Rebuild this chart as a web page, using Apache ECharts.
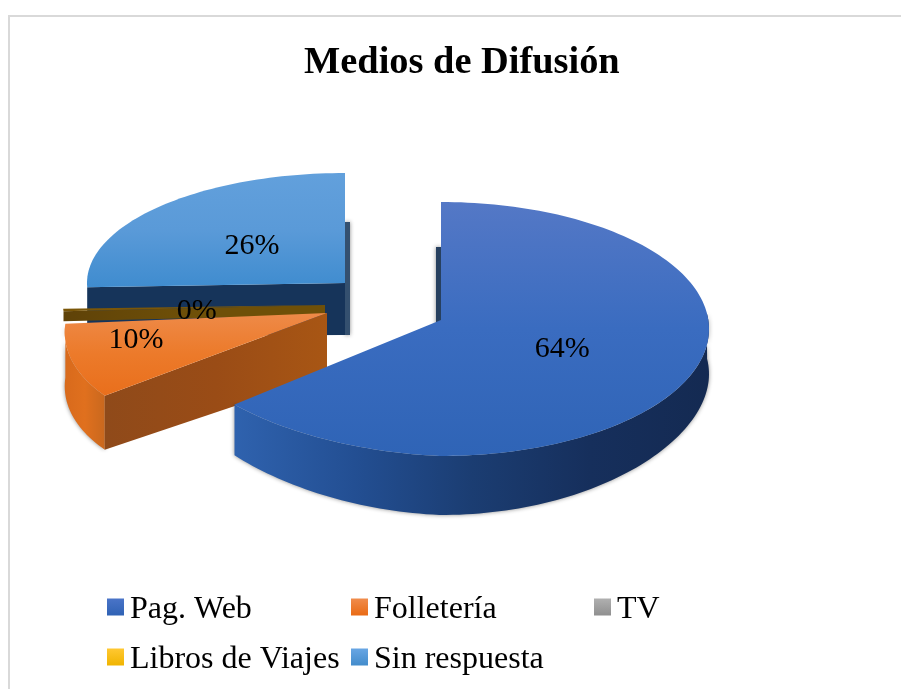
<!DOCTYPE html>
<html>
<head>
<meta charset="utf-8">
<style>html,body{margin:0;padding:0;background:#fff}#c{width:901px;height:689px}</style>
<script src="https://cdn.jsdelivr.net/npm/echarts@6/dist/echarts.min.js"></script>
</head>
<body>
<div id="c"></div>
<script>
const categories = ['Pag. Web', 'Folletería', 'TV', 'Libros de Viajes', 'Sin respuesta'];
const values = [64, 10, 0, 0.4, 25.6];

const FONT = '"Liberation Serif","Times New Roman",serif';
const LG = (x0, y0, x1, y1, stops) => new echarts.graphic.LinearGradient(x0, y0, x1, y1,
  stops.map((c, i) => ({ offset: stops.length > 1 ? i / (stops.length - 1) : 0, color: c })));

// Exploded-pie projection settings, one per category (no data in here).
const pieCenter = [385, 307];
const geom = [
  { off: [56, 13], rimDy: 9, rx: 268, ry: 127, shear: 0, lift: 11, depth: t => 45 + 14 * Math.pow(Math.max(0, -Math.cos(t)), 2), apexDepth: 55,
    z: 5, rim: true, strip: -5, labelF: .5, labelDy: 2,
    top: ['#5478c6', '#3a6cc0', '#2f64b6'], wall: ['#2f62ae', '#234f93', '#1b3d72', '#162f5c', '#142a52'], stripC: '#27405f' },
  { off: [-58, 6], rimDy: 3, rx: 260, ry: 125, shear: .275, lift: 0, depth: t => 54, apexDepth: 62,
    z: 4, rim: true, cut: true, labelF: .79, labelDy: -9,
    top: ['#ee8a48', '#ec7a2a', '#e96f1c'], wall: ['#d86a1c', '#e0701e', '#c9681e'], cutC: ['#8f4a1a', '#9a4c16', '#a85614'] },
  null,
  { off: [-60, -2], rimDy: 0, rx: 262, ry: 100, shear: 0, lift: 0, depth: t => 10, apexDepth: 10,
    z: 3, cut: true, labelF: .49, labelDy: 4,
    top: ['#7a5608', '#7a5608'], cutC: ['#5f4208', '#6f5008', '#6f5008'] },
  { off: [-40, -24], rimDy: 0, rx: 258, ry: 110, shear: 0, lift: 0, depth: t => 49, apexDepth: 52,
    z: 2, cut: true, strip: 5, labelF: .5, labelDy: 1,
    top: ['#62a0dc', '#5a9ad8', '#3f8ccf'], cutC: ['#16345a', '#16345a', '#16345a'], stripC: '#34506f' }
];
const legendColors = [['#4a74c8', '#2f62b4'], ['#f08c4c', '#e96a14'], ['#b0b0b0', '#8f8f8f'], ['#ffc832', '#f0b400'], ['#68a6e4', '#438ccb']];

const total = values.reduce((a, b) => a + b, 0);
const angles = [];
values.reduce((acc, v) => { const s = acc / total * 2 * Math.PI, e = (acc + v) / total * 2 * Math.PI; angles.push([s, e]); return acc + v; }, 0);

function apex(g) { return [pieCenter[0] + g.off[0], pieCenter[1] + g.off[1]]; }
function rimPt(g, t) {
  const a = apex(g), dy = -Math.cos(t) * g.ry;
  const lift = g.lift * Math.max(0, -Math.sin(t)) * Math.max(0, -Math.cos(t));
  return [a[0] + Math.sin(t) * g.rx - g.shear * Math.max(0, dy), a[1] + g.rimDy + dy - lift];
}
function arc(g, t0, t1) {
  const n = Math.max(2, Math.ceil(Math.abs(t1 - t0) * 40)), pts = [];
  for (let i = 0; i <= n; i++) pts.push(t0 + (t1 - t0) * i / n);
  return pts;
}
function poly(points, style, extra) {
  return Object.assign({ type: 'polygon', shape: { points }, style, silent: true }, extra || {});
}
function drawSlice(i) {
  const g = geom[i], kids = [];
  if (!values[i] || !g) return { type: 'group', children: [] };
  const [s, e] = angles[i], a = apex(g);
  const shadow = { shadowBlur: 4, shadowColor: 'rgba(0,0,0,.45)' };
  if (g.strip) {
    const t = g.strip > 0 ? e : s, r = rimPt(g, t), d = g.depth(t);
    kids.push(poly([[r[0], r[1] + d], [r[0] + g.strip, r[1] + d], [a[0] + g.strip, a[1] + g.apexDepth], [a[0], a[1] + g.apexDepth]],
      Object.assign({ fill: g.stripC }, shadow)));
  }
  if (g.rim) {
    const t0 = Math.max(s, 1.45), t1 = Math.min(e, 4.72);
    const ts = arc(g, t0, t1);
    const upper = ts.map(t => rimPt(g, t));
    const lower = ts.slice().reverse().map(t => { const p = rimPt(g, t); return [p[0], p[1] + g.depth(t)]; });
    kids.push(poly(upper.concat(lower), Object.assign({ fill: LG(0, 0, 1, 0, g.wall) }, shadow)));
  }
  if (g.cut) {
    const r = rimPt(g, s), d = g.depth(s);
    kids.push(poly([a, r, [r[0], r[1] + d], [a[0], a[1] + g.apexDepth]], { fill: LG(0, 0, 1, 0, g.cutC) }));
  }
  const topPts = [a].concat(arc(g, s, e).map(t => rimPt(g, t)));
  kids.push(poly(topPts, { fill: LG(0, 0, 0, 1, g.top) }));
  return { type: 'group', children: kids };
}
function drawLabels() {
  const kids = [];
  values.forEach((v, i) => {
    const g = geom[i];
    if (!v || !g) return;
    const mid = (angles[i][0] + angles[i][1]) / 2, a = apex(g);
    kids.push({
      type: 'text', silent: true,
      style: {
        x: a[0] + Math.sin(mid) * g.rx * g.labelF,
        y: a[1] - Math.cos(mid) * g.ry * g.labelF + g.labelDy,
        text: Math.round(v / total * 100) + '%',
        font: '30px ' + FONT, fill: '#000', align: 'center', verticalAlign: 'middle'
      }
    });
  });
  return { type: 'group', children: kids };
}

const series = categories.map((name, i) => ({
  type: 'custom', name, coordinateSystem: 'none', silent: true,
  z: geom[i] ? geom[i].z : 1,
  itemStyle: { color: LG(0, 0, 0, 1, legendColors[i]) },
  data: [values[i]],
  renderItem: () => drawSlice(i)
}));
series.push({
  type: 'custom', name: 'labels', coordinateSystem: 'none', silent: true, z: 10,
  data: [0], renderItem: drawLabels
});

const legendBase = {
  orient: 'vertical', selectedMode: false, itemWidth: 17, itemHeight: 17, itemGap: 18, padding: 0,
  icon: 'rect', formatter: '{t|{name}}',
  textStyle: { rich: { t: { fontFamily: FONT, fontSize: 32, color: '#000', padding: [6, 0, 0, 1] } } }
};
const chart = echarts.init(document.getElementById('c'), null, { renderer: 'canvas' });
chart.setOption({
  animation: false, backgroundColor: '#fff', tooltip: { show: false },
  title: { text: 'Medios de Difusión', left: 299, top: 39,
    textStyle: { fontFamily: FONT, fontSize: 38.4, fontWeight: 'bold', color: '#000' } },
  legend: [
    Object.assign({}, legendBase, { left: 107, top: 594, data: [categories[0], categories[3]] }),
    Object.assign({}, legendBase, { left: 351, top: 594, data: [categories[1], categories[4]] }),
    Object.assign({}, legendBase, { left: 594, top: 594, data: [categories[2]] })
  ],
  graphic: [{ type: 'polyline', silent: true, z: -1,
    shape: { points: [[9, 689], [9, 16], [901, 16]] },
    style: { stroke: '#d9d9d9', lineWidth: 2, fill: null } }],
  series
});
</script>
</body>
</html>
